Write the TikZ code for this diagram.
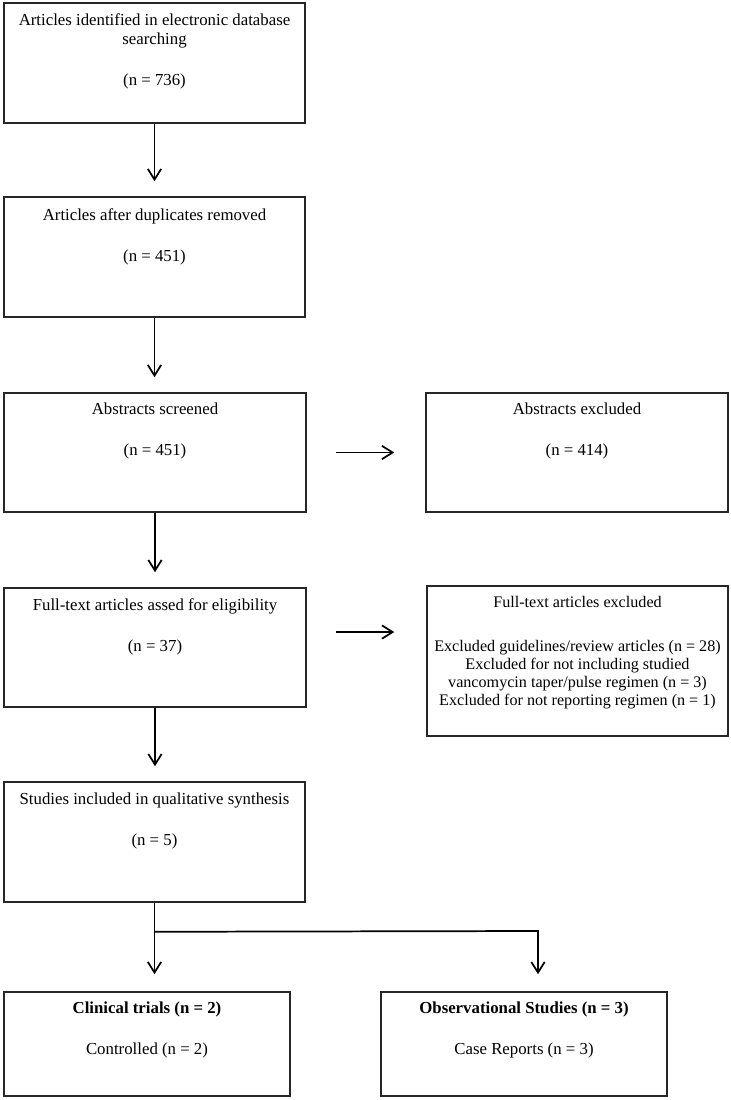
\documentclass[tikz,border=0pt]{standalone}
\usepackage{fontspec}
\setmainfont{Liberation Serif}
\usetikzlibrary{arrows.meta,fit}
\begin{document}
\begin{tikzpicture}[x=0.75pt,y=-0.75pt,
  box/.style={draw=black!85, line width=1.15pt, inner sep=0pt, rectangle},
  txt/.style={anchor=north, align=center, inner sep=0pt, font=\fontsize{12.6}{14.25}\selectfont},
  smalltxt/.style={anchor=north, align=center, inner sep=0pt, font=\fontsize{12.1}{13.5}\selectfont},
  arr/.style={draw=black, line width=1.3pt, -{Straight Barb[length=8pt,width=10pt]}},
  ln/.style={draw=black, line width=1pt}]
\useasboundingbox (0,0) rectangle (731,1100);
\fill[white] (0,0) rectangle (731,1100);

\node[box, fit={(4,3)(305,123)}] (b1) {};
\node[box, fit={(4,197)(305,317)}] (b2) {};
\node[box, fit={(4,393)(306,512)}] (b3) {};
\node[box, fit={(426,393)(728,512)}] (b4) {};
\node[box, fit={(4,588)(306,707)}] (b5) {};
\node[box, fit={(427,586)(728,736)}] (b6) {};
\node[box, fit={(4,782)(305,902)}] (b7) {};
\node[box, fit={(4,992)(290,1096)}] (b8) {};
\node[box, fit={(381,992)(667,1096)}] (b9) {};

\node[txt] (t1) at (154.5,13.5) {Articles identified in electronic database\\searching\\[16.5pt](n = 736)};
\node[txt] (t2) at (154.5,208.5) {Articles after duplicates removed\\[16.5pt](n = 451)};
\node[txt] (t3) at (155,402.5) {Abstracts screened\\[16.5pt](n = 451)};
\node[txt] (t4) at (577,402.5) {Abstracts excluded\\[16.5pt](n = 414)};
\node[txt] (t5) at (155,598.5) {Full-text articles assed for eligibility\\[16.5pt](n = 37)};
\node[smalltxt] (t6) at (577.5,596.5) {Full-text articles excluded\\[19.5pt]Excluded guidelines/review articles (n = 28)\\Excluded for not including studied\\vancomycin taper/pulse regimen (n = 3)\\Excluded for not reporting regimen (n = 1)};
\node[txt] (t7) at (154.5,792.5) {Studies included in qualitative synthesis\\[16.5pt](n = 5)};
\node[txt] (t8) at (147,1001.5) {\textbf{Clinical trials (n = 2)}\\[16.5pt]Controlled (n = 2)};
\node[txt] (t9) at (524,1001.5) {\textbf{Observational Studies (n = 3)}\\[16.5pt]Case Reports (n = 3)};

\draw[arr, shorten >=11.25pt] (b1.south) -- (b1.south |- b2.north);
\draw[arr, shorten >=11.25pt] (b2.south) -- (b2.south |- b3.north);
\draw[arr, shorten >=11.25pt] (b3.south) -- (b3.south |- b5.north);
\draw[arr, shorten >=11.25pt] (b5.south) -- (b5.south |- b7.north);

\draw[arr, shorten <=21.75pt, shorten >=23.25pt] (b3.east) -- (b4.west);
\coordinate (a5) at ([yshift=11.6pt]b5.east);
\draw[arr, shorten <=21.75pt, shorten >=24pt] (a5) -- (a5 -| b6.west);

\coordinate (j) at ([yshift=-21.75pt]b7.south);
\coordinate (k) at (538,931);
\draw[arr, shorten >=12.75pt] (b7.south) -- (b7.south |- b8.north);
\draw[arr, shorten >=12.75pt] (j) -- (k) -- (k |- b9.north);
\end{tikzpicture}
\end{document}
